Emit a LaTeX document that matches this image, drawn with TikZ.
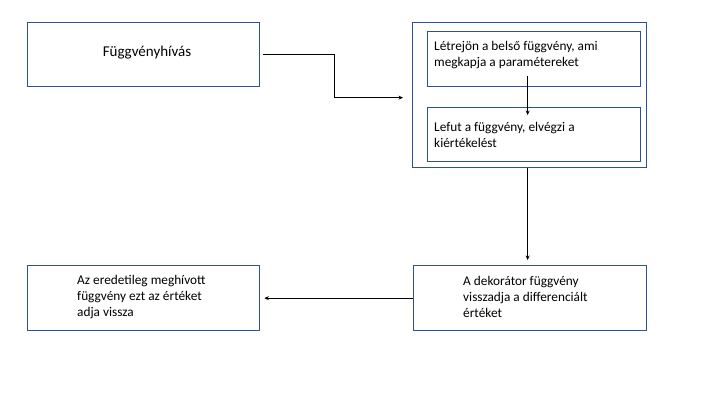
\documentclass[tikz,border=0pt]{standalone}
\usepackage{fontspec}
\setmainfont{Carlito}
\usetikzlibrary{arrows.meta}
\definecolor{boxblue}{HTML}{2F528F}
\tikzset{
  box/.style={draw=boxblue, line width=1.3bp, fill=none, inner sep=0pt, anchor=north west},
  txt/.style={inner sep=0pt, align=left, anchor=west, font=\fontsize{13.3bp}{16bp}\selectfont, text=black},
  conn/.style={draw=black, line width=1.1bp, -{Stealth[length=4.5bp,width=4bp]}}
}
\begin{document}
\begin{tikzpicture}[x=1bp,y=-1bp]
\useasboundingbox (0,0) rectangle (720,405);
% boxes
\node[box, minimum width=232bp, minimum height=64bp] (b1) at (27,22) {};
\node[box, minimum width=234bp, minimum height=145bp] (outer) at (412,22) {};
\node[box, minimum width=213bp, minimum height=55bp] (in1) at (427,31) {};
\node[box, minimum width=213bp, minimum height=54bp] (in2) at (427,107) {};
\node[box, minimum width=233bp, minimum height=65bp] (br) at (413,265) {};
\node[box, minimum width=232bp, minimum height=65bp] (bl) at (27,265) {};
% texts
\node[inner sep=0pt, font=\fontsize{15bp}{18bp}\selectfont] (t1) at (147,53) {Függvényhívás};
\node[txt] (t2) at (434,55) {Létrejön a belső függvény, ami\\megkapja a paramétereket};
\node[txt] (t3) at (434,135) {Lefut a függvény, elvégzi a\\kiértékelést};
\node[txt] (t4) at (463,297) {A dekorátor függvény\\visszadja a differenciált\\értéket};
\node[txt] (t5) at (77,297) {Az eredetileg meghívott\\függvény ezt az értéket\\adja vissza};
% connectors
\draw[conn, shorten <=3bp, shorten >=9bp] (b1.east) -- ++(74,0) |- ([yshift=-2.5bp]outer.west);
\draw[conn] ([xshift=-6.5bp,yshift=11bp]in1.south) -- ([xshift=-6.5bp,yshift=-8bp]in2.north);
\draw[conn, shorten >=5bp] ([xshift=-2bp]outer.south) -- ([xshift=-2.5bp]br.north);
\draw[conn, shorten >=4bp] (br.west) -- (bl.east);
\end{tikzpicture}
\end{document}
